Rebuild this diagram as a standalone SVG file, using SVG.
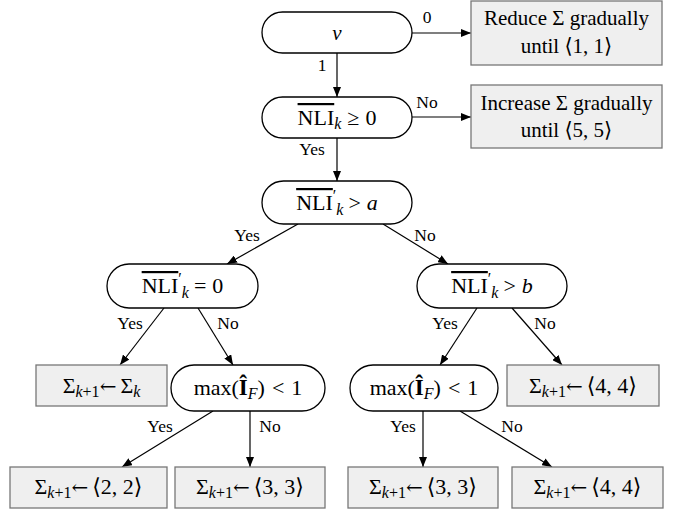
<svg xmlns="http://www.w3.org/2000/svg" width="683" height="512" viewBox="0 0 683 512" font-family="'Liberation Serif','DejaVu Serif',serif">
<defs>
<marker id="ah" markerUnits="userSpaceOnUse" markerWidth="10" markerHeight="8" refX="10" refY="4" orient="auto">
<path d="M0,0 L10,4 L0,8 Z" fill="#000"/>
</marker>
<style>
text{font-family:"Liberation Serif","DejaVu Serif",serif;fill:#000}
.t{font-size:21px;text-anchor:middle}
.m{font-size:22px;text-anchor:middle}
.lb{font-size:17.5px;text-anchor:middle}
.s2{font-size:16px}
.i{font-style:italic}
.ar{font-family:"DejaVu Serif",serif;font-size:20px}
.ov{text-decoration:overline}
.node{fill:#fff;stroke:#000;stroke-width:1.3}
.box{fill:#efefef;stroke:#777;stroke-width:1.3}
.c line{stroke:#000;stroke-width:1.2;marker-end:url(#ah)}
</style>
</defs>
<rect width="683" height="512" fill="#fff"/>
<g class="c" id="connectors">
<line x1="412" y1="33" x2="471" y2="33"/>
<line x1="337" y1="53" x2="337" y2="97"/>
<line x1="412" y1="117" x2="471" y2="117"/>
<line x1="337" y1="138" x2="337" y2="181"/>
<line x1="298" y1="224" x2="227" y2="264"/>
<line x1="383" y1="224" x2="448" y2="264"/>
<line x1="164" y1="308" x2="120" y2="365"/>
<line x1="198" y1="308" x2="233" y2="365"/>
<line x1="477" y1="308" x2="440" y2="365"/>
<line x1="512" y1="308" x2="562" y2="365"/>
<line x1="213" y1="411" x2="122" y2="467"/>
<line x1="250" y1="411" x2="250" y2="467"/>
<line x1="423" y1="411" x2="423" y2="467"/>
<line x1="460" y1="411" x2="552" y2="467"/>
<text class="lb" x="427" y="23">0</text>
<text class="lb" x="322" y="71">1</text>
<text class="lb" x="427" y="108">No</text>
<text class="lb" x="312" y="155">Yes</text>
<text class="lb" x="247" y="241">Yes</text>
<text class="lb" x="425" y="241">No</text>
<text class="lb" x="130" y="329">Yes</text>
<text class="lb" x="228" y="329">No</text>
<text class="lb" x="445" y="329">Yes</text>
<text class="lb" x="545" y="329">No</text>
<text class="lb" x="160" y="432">Yes</text>
<text class="lb" x="270" y="432">No</text>
<text class="lb" x="403" y="432">Yes</text>
<text class="lb" x="512" y="432">No</text>
</g>
<g id="n-nu">
<rect class="node" x="262" y="12" width="150" height="41" rx="20.5"/>
<text class="t i" x="337" y="40">ν</text>
</g>
<g id="b-reduce">
<rect class="box" x="471" y="1" width="191" height="64"/>
<text class="t" x="566.5" y="25" font-size="21.5">Reduce Σ gradually</text>
<text class="t" x="566.5" y="53">until ⟨1, 1⟩</text>
</g>
<g id="n-nlik">
<rect class="node" x="262" y="97" width="150" height="41" rx="20.5"/>
<text class="m" x="337" y="125"><tspan class="ov">NLI</tspan><tspan class="s2 i" dy="4">k</tspan><tspan dy="-4" dx="6">≥</tspan><tspan dx="6">0</tspan></text>
</g>
<g id="b-increase">
<rect class="box" x="471" y="85" width="191" height="63"/>
<text class="t" x="566.5" y="110" font-size="21.5">Increase Σ gradually</text>
<text class="t" x="566.5" y="137">until ⟨5, 5⟩</text>
</g>
<g id="n-nlia">
<rect class="node" x="262" y="181" width="150" height="43" rx="21.5"/>
<text class="m" x="337" y="210"><tspan class="ov">NLI</tspan><tspan class="s2" dy="-9">′</tspan><tspan class="s2 i" dy="14">k</tspan><tspan dy="-5" dx="5">&gt;</tspan><tspan class="i" dx="6">a</tspan></text>
</g>
<g id="n-nli0">
<rect class="node" x="107" y="264" width="151" height="44" rx="22"/>
<text class="m" x="182.5" y="293"><tspan class="ov">NLI</tspan><tspan class="s2" dy="-9">′</tspan><tspan class="s2 i" dy="14">k</tspan><tspan dy="-5" dx="5">=</tspan><tspan dx="6">0</tspan></text>
</g>
<g id="n-nlib">
<rect class="node" x="417" y="264" width="150" height="44" rx="22"/>
<text class="m" x="492" y="293"><tspan class="ov">NLI</tspan><tspan class="s2" dy="-9">′</tspan><tspan class="s2 i" dy="14">k</tspan><tspan dy="-5" dx="5">&gt;</tspan><tspan class="i" dx="6">b</tspan></text>
</g>
<g id="b-sk">
<rect class="box" x="36" y="365" width="131" height="41"/>
<text class="m" x="101.5" y="393">Σ<tspan class="s2" dy="4"><tspan class="i">k</tspan>+1</tspan><tspan class="ar" dy="-4">←</tspan><tspan dx="4">Σ</tspan><tspan class="s2 i" dy="4">k</tspan></text>
</g>
<g id="n-maxl">
<rect class="node" x="171" y="365" width="154" height="46" rx="23"/>
<text class="m" x="248" y="395">max(<tspan font-weight="bold" font-size="23">Î</tspan><tspan class="s2 i" dy="4">F</tspan><tspan dy="-4">)</tspan><tspan dx="7">&lt;</tspan><tspan dx="7">1</tspan></text>
</g>
<g id="n-maxr">
<rect class="node" x="350" y="365" width="148" height="46" rx="23"/>
<text class="m" x="424" y="395">max(<tspan font-weight="bold" font-size="23">Î</tspan><tspan class="s2 i" dy="4">F</tspan><tspan dy="-4">)</tspan><tspan dx="7">&lt;</tspan><tspan dx="7">1</tspan></text>
</g>
<g id="b-44a">
<rect class="box" x="507" y="365" width="152" height="41"/>
<text class="m" x="583" y="393">Σ<tspan class="s2" dy="4"><tspan class="i">k</tspan>+1</tspan><tspan class="ar" dy="-4">←</tspan><tspan dx="4">⟨4, 4⟩</tspan></text>
</g>
<g id="b-22">
<rect class="box" x="10" y="467" width="157" height="41"/>
<text class="m" x="88.5" y="494">Σ<tspan class="s2" dy="4"><tspan class="i">k</tspan>+1</tspan><tspan class="ar" dy="-4">←</tspan><tspan dx="4">⟨2, 2⟩</tspan></text>
</g>
<g id="b-33a">
<rect class="box" x="175" y="467" width="150" height="41"/>
<text class="m" x="250" y="494">Σ<tspan class="s2" dy="4"><tspan class="i">k</tspan>+1</tspan><tspan class="ar" dy="-4">←</tspan><tspan dx="4">⟨3, 3⟩</tspan></text>
</g>
<g id="b-33b">
<rect class="box" x="348" y="467" width="150" height="41"/>
<text class="m" x="423" y="494">Σ<tspan class="s2" dy="4"><tspan class="i">k</tspan>+1</tspan><tspan class="ar" dy="-4">←</tspan><tspan dx="4">⟨3, 3⟩</tspan></text>
</g>
<g id="b-44b">
<rect class="box" x="512" y="467" width="151" height="41"/>
<text class="m" x="587.5" y="494">Σ<tspan class="s2" dy="4"><tspan class="i">k</tspan>+1</tspan><tspan class="ar" dy="-4">←</tspan><tspan dx="4">⟨4, 4⟩</tspan></text>
</g>
</svg>
